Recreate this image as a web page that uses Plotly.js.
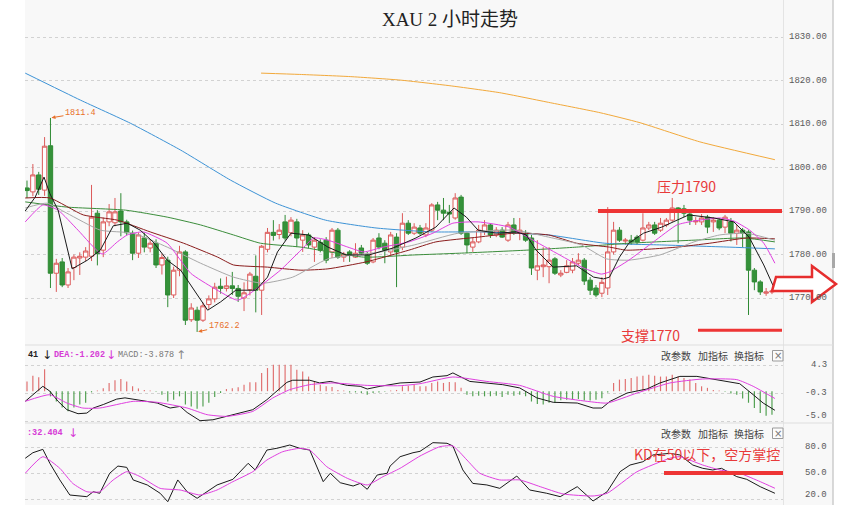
<!DOCTYPE html>
<html><head><meta charset="utf-8">
<script src="https://cdn.plot.ly/plotly-3.0.1.min.js"></script>
<style>html,body{margin:0;padding:0;background:#fff;}#chart{width:847px;height:513px;}</style>
</head><body><div id="chart"></div>
<script>
// ---------- data ----------
const opens = [1795.3,1794.4,1798.3,1794.8,1805.0,1775.7,1778.3,1773.0,1777.0,1779.2,
1779.4,1779.6,1789.5,1781.0,1787.5,1787.3,1790.0,1787.5,1784.9,1780.3,
1783.8,1781.5,1782.6,1777.6,1778.7,1770.7,1776.4,1780.6,1765.0,1767.2,
1764.9,1768.5,1769.8,1772.7,1772.2,1772.8,1772.2,1770.0,1771.9,1775.0,
1771.8,1781.2,1785.1,1784.6,1787.5,1785.0,1787.5,1783.3,1784.5,1781.7,
1782.8,1783.3,1780.6,1785.6,1779.4,1780.6,1779.4,1781.5,1779.9,1778.3,
1783.8,1782.6,1780.6,1784.0,1781.7,1787.2,1784.9,1786.1,1784.5,1785.6,
1791.4,1790.2,1789.7,1788.4,1793.2,1784.9,1781.7,1782.9,1785.2,1786.8,
1784.5,1785.6,1783.3,1786.8,1784.9,1784.9,1783.8,1776.4,1777.2,1777.2,
1779.0,1775.3,1775.9,1776.4,1778.0,1778.7,1774.1,1772.3,1771.1,1772.3,
1780.6,1785.6,1783.1,1783.3,1784.0,1783.3,1786.1,1786.8,1785.6,1786.8,
1787.9,1790.7,1790.5,1789.3,1787.5,1787.5,1788.6,1787.5,1787.9,1786.3,
1787.5,1784.9,1785.6,1785.2,1776.4,1773.7,1771.1,1771.4];
const highs = [1797.0,1800.8,1799.0,1807.0,1811.4,1779.0,1779.2,1776.9,1780.0,1780.5,
1781.7,1796.0,1790.2,1788.5,1791.6,1793.0,1794.1,1788.0,1785.5,1785.0,
1785.0,1783.5,1783.5,1780.2,1779.5,1777.2,1782.0,1781.0,1768.8,1768.0,
1769.0,1770.6,1773.5,1774.5,1774.9,1776.0,1773.0,1773.6,1776.0,1779.8,
1782.2,1786.1,1787.9,1787.0,1789.1,1788.6,1788.2,1785.6,1785.0,1784.0,
1783.5,1784.0,1786.1,1786.1,1780.6,1781.0,1782.6,1782.2,1780.6,1783.8,
1784.9,1783.3,1785.2,1784.9,1789.5,1787.9,1787.2,1786.8,1787.2,1791.8,
1792.1,1793.0,1791.4,1794.1,1793.7,1785.2,1783.8,1786.8,1787.9,1787.2,
1786.3,1786.3,1787.5,1788.4,1788.4,1785.6,1784.5,1783.3,1781.7,1781.7,
1779.4,1776.4,1778.7,1779.2,1780.3,1779.2,1774.8,1773.0,1774.8,1790.9,
1787.5,1786.3,1783.8,1784.5,1784.5,1789.5,1787.5,1787.5,1788.4,1788.4,
1793.0,1790.9,1791.4,1790.0,1788.6,1789.3,1789.1,1788.6,1788.4,1789.1,
1788.4,1786.8,1786.1,1785.6,1776.9,1774.1,1772.3,1772.0];
const lows = [1793.0,1793.4,1793.7,1793.5,1772.3,1771.4,1772.5,1772.3,1774.1,1775.3,
1778.5,1778.5,1777.5,1779.4,1786.5,1786.5,1784.2,1784.5,1778.7,1779.2,
1780.5,1780.5,1776.9,1775.4,1767.9,1770.0,1775.0,1763.8,1764.5,1762.2,
1764.5,1767.5,1769.0,1771.0,1771.5,1770.7,1769.1,1767.0,1770.6,1766.7,
1766.1,1780.5,1783.2,1783.5,1783.2,1784.2,1781.7,1780.6,1781.5,1778.3,
1780.5,1778.0,1779.2,1779.0,1778.3,1778.3,1779.2,1779.9,1777.6,1778.0,
1781.2,1778.0,1779.9,1772.5,1781.0,1784.5,1784.5,1784.5,1784.0,1785.2,
1787.9,1787.9,1787.2,1788.0,1784.5,1780.3,1780.6,1782.6,1784.5,1783.8,
1784.0,1783.8,1782.9,1784.5,1783.3,1782.9,1775.3,1774.1,1774.8,1773.4,
1775.3,1774.8,1775.7,1775.7,1777.6,1773.0,1770.7,1770.2,1770.2,1770.7,
1780.0,1782.9,1782.2,1782.2,1782.2,1783.0,1785.6,1784.5,1785.2,1786.3,
1787.5,1782.6,1788.6,1786.8,1786.8,1786.8,1784.9,1785.2,1785.6,1784.9,
1783.0,1782.2,1781.7,1766.1,1771.8,1770.7,1770.5,1770.9];
const closes = [1794.7,1798.3,1795.0,1804.9,1775.7,1778.0,1773.0,1776.0,1779.4,1779.6,
1780.8,1788.6,1780.2,1787.5,1789.8,1789.8,1787.5,1785.0,1780.3,1784.5,
1781.7,1782.6,1777.6,1779.3,1770.7,1776.4,1780.6,1764.9,1767.7,1764.9,
1768.2,1769.8,1772.5,1772.2,1772.8,1772.2,1770.4,1771.2,1775.5,1771.8,
1781.9,1785.1,1784.4,1785.6,1783.8,1787.9,1783.8,1784.5,1782.2,1783.3,
1781.0,1778.7,1785.6,1779.4,1780.1,1779.9,1780.3,1780.3,1778.0,1783.3,
1781.7,1781.0,1784.5,1780.6,1787.2,1784.9,1786.3,1784.9,1786.1,1791.4,
1790.2,1789.5,1789.3,1793.0,1784.9,1782.2,1782.9,1785.6,1786.8,1784.5,
1785.6,1784.0,1786.8,1784.9,1785.6,1783.3,1776.9,1777.4,1777.6,1778.7,
1775.7,1775.7,1777.4,1778.3,1778.7,1773.9,1771.8,1770.7,1773.6,1780.6,
1785.6,1783.3,1783.3,1782.9,1782.9,1786.1,1786.8,1784.9,1787.2,1787.9,
1790.7,1789.8,1789.5,1787.9,1787.7,1788.4,1786.3,1787.9,1786.1,1788.6,
1784.9,1785.6,1784.9,1776.4,1773.7,1771.4,1771.4,1771.6];
const barIndex = opens.map((_, i) => i);

// moving averages: bar position / price
const ma5X = [-0.3,1.4,2.9,3.9,5.3,7.7,10.3,12.5,14.7,17.1,19.3,21.5,23.9,26.2,30.8,33.0,35.6,39.0,41.0,42.7,45.0,48.0,51.3,54.4,58.3,62.4,66.3,69.7,72.8,74.9,76.9,80.0,83.4,85.1,86.8,89.7,93.7,96.6,98.3,99.3,101.0,102.6,105.1,108.2,112.8,117.1,120.5,123.1,125.6,127.2];
const ma5Y = [1790.0,1793.2,1797.8,1794.0,1790.2,1776.7,1778.7,1781.0,1786.6,1787.2,1785.6,1782.9,1778.7,1776.4,1767.2,1769.1,1771.8,1771.8,1774.8,1780.6,1784.9,1784.5,1781.7,1779.9,1779.9,1781.5,1783.8,1786.3,1790.7,1788.6,1785.6,1784.9,1785.2,1784.5,1781.0,1777.1,1777.4,1774.8,1774.4,1774.8,1779.4,1782.6,1784.9,1786.3,1789.1,1788.4,1787.5,1784.0,1777.6,1772.8];
const ma10X = [-0.3,2.7,5.3,8.7,12.8,15.4,17.1,19.8,23.9,27.9,31.8,35.9,38.6,43.2,46.7,48.9,51.3,54.7,57.4,60.7,65.1,69.2,72.6,76.9,82.2,85.6,90.8,94.9,97.9,99.3,102.6,106.8,110.8,113.7,118.1,120.5,123.2,125.6,127.5];
const ma10Y = [1787.5,1791.4,1790.2,1785.6,1780.1,1782.9,1784.5,1785.2,1782.6,1775.7,1772.3,1769.5,1771.6,1776.4,1781.0,1783.8,1783.3,1781.7,1780.6,1781.7,1782.9,1784.9,1787.2,1787.5,1786.3,1783.8,1779.9,1776.9,1775.5,1776.0,1778.7,1782.9,1786.8,1787.7,1788.4,1787.7,1785.6,1782.6,1778.0];
const ma20X = [-0.3,3.4,6.8,12.5,18.1,23.9,29.6,35.2,40.2,45.3,51.3,60.3,66.0,73.5,83.1,88.9,94.5,98.8,102.6,107.9,113.7,118.1,122.7,127.5];
const ma20Y = [1790.7,1791.8,1789.5,1785.6,1784.9,1781.7,1778.0,1774.8,1773.4,1774.8,1779.0,1780.6,1782.2,1784.9,1785.6,1784.0,1782.2,1779.0,1778.7,1779.9,1782.9,1784.5,1784.9,1783.3];
const ma30X = [-0.3,3.9,9.6,15.4,21.0,26.7,32.5,35.2,41.0,46.7,51.3,57.8,65.1,69.7,76.9,83.1,88.9,93.7,99.3,102.2,110.8,116.4,122.7,127.5];
const ma30Y = [1793.0,1793.0,1789.1,1787.9,1785.2,1782.6,1779.4,1777.6,1777.1,1776.4,1776.7,1778.3,1781.0,1782.9,1784.0,1784.9,1784.5,1782.6,1781.7,1781.0,1781.7,1782.6,1783.8,1783.6];
const ma60X = [-0.3,6.8,16.8,23.9,29.6,35.2,39.8,46.7,57.4,66.0,73.7,85.1,93.7,102.6,113.7,122.2,127.5];
const ma60Y = [1792.1,1790.9,1790.2,1788.6,1786.8,1784.5,1782.6,1781.7,1779.4,1779.9,1780.3,1781.0,1781.7,1782.6,1783.3,1783.8,1782.9];
const ma120X = [-0.3,9.1,17.6,26.2,34.7,42.4,50.9,59.5,68.9,77.4,88.9,98.5,108.2,119.7,127.5];
const ma120Y = [1821.7,1815.5,1810.2,1804.0,1797.1,1791.8,1787.9,1786.1,1785.2,1785.2,1784.5,1782.6,1782.2,1781.7,1781.3];
const ma250X = [39.9,46.5,55.1,63.6,72.1,80.6,89.2,97.7,104.5,114.7,127.5];
const ma250Y = [1821.7,1821.4,1820.9,1820.1,1818.8,1817.2,1814.9,1812.6,1810.3,1805.9,1801.8];

// MACD
const macdHist = [1.6,2.55,2.3,3.6,-0.85,-1.7,-2.7,-3.3,-2.7,-2.2,
-1.9,-0.2,0.1,0.5,1.35,1.8,2.0,1.6,0.8,0.45,
0.2,0.1,-0.1,-0.6,-1.7,-1.4,-0.85,-2.2,-2.5,-2.9,
-2.5,-1.9,-0.95,-0.3,0.35,0.5,0.65,1.07,1.45,1.45,
3.0,3.8,4.35,4.35,4.35,4.35,3.5,3.25,2.4,1.6,
1.05,0.8,0.7,0.2,0.1,-0.2,-0.2,-0.3,-0.6,-0.3,
-0.2,-0.1,0.1,0.2,0.8,0.9,1.05,0.8,0.8,1.35,
1.6,1.35,1.5,1.45,0.55,-0.6,-0.85,-0.75,-0.85,-0.85,
-0.75,-0.95,-0.6,-0.75,-0.6,-0.85,-1.7,-2.1,-2.2,-1.9,
-1.9,-1.5,-1.4,-1.3,-1.3,-1.55,-1.55,-1.4,-1.15,-0.2,
1.35,1.9,2.0,2.15,2.4,2.55,2.7,2.55,2.4,2.4,
2.7,2.4,2.15,1.9,1.35,0.8,0.55,0.2,0.1,-0.1,
-0.4,-0.6,-1.2,-1.9,-2.75,-3.6,-4.05,-3.878];
const difX = [-0.3,1.0,2.7,3.9,5.3,6.8,8.7,10.2,11.3,13.0,15.3,16.7,19.3,22.2,24.4,26.1,27.3,29.5,31.7,35.1,38.5,40.9,42.6,44.3,45.3,48.2,49.9,51.7,54.6,56.8,58.0,60.2,63.6,67.0,69.2,71.6,72.6,75.5,81.1,84.0,86.9,89.7,93.8,96.5,98.0,99.4,102.3,105.7,107.9,111.3,114.2,116.9,119.3,121.5,123.8,125.5,127.5];
const difY = [-1.67,-0.58,0.8,0,-1.67,-3.04,-3.7,-3.6,-2.77,-2.2,-1.3,-1.1,-1.5,-1.95,-2.77,-2.5,-3.5,-4.85,-4.7,-3.86,-3.04,-1.4,0,1.45,1.8,1.8,1.35,1.6,0.95,0.8,0.36,0.8,1.35,1.5,2.33,2.55,3.0,1.6,1.07,0.53,-1.1,-1.83,-1.95,-2.77,-2.77,-1.67,-0.3,0.36,1.35,2.43,2.43,2.0,1.6,1.23,-0.58,-1.95,-3.141];
const deaX = [-0.3,3.9,6.8,9.5,12.4,18.1,22.2,27.3,30.7,34.1,38.5,41.9,44.8,48.2,52.2,58.0,63.6,67.0,72.6,78.4,84.0,89.7,95.5,98.9,104.0,109.6,115.2,121.0,123.8,127.5];
const deaY = [-1.67,-0.58,-1.95,-2.77,-2.77,-1.67,-1.83,-2.77,-3.86,-4.14,-3.32,-1.12,0.25,1.07,1.35,0.95,0.9,1.23,2.33,1.6,0.95,-0.85,-1.67,-1.95,-0.3,1.35,2.0,1.9,0.8,-1.202];

// KD
const kX = [-0.3,1.0,2.7,3.9,5.6,7.3,10.2,11.3,12.4,14.1,15.5,17.0,18.1,20.5,22.7,24.0,25.7,27.3,29.0,30.7,32.4,35.1,37.7,38.9,40.9,42.6,44.8,46.5,48.2,50.5,51.7,53.4,55.6,56.8,58.0,59.7,61.4,61.9,63.6,65.8,67.0,69.2,71.6,72.6,74.3,76.0,78.4,80.6,83.5,85.7,88.6,90.9,93.8,96.5,98.9,101.1,102.8,105.0,106.7,109.6,111.3,113.5,115.2,116.9,118.4,121.0,122.7,125.0,127.5];
const kY = [67,73.4,77.3,61.2,42,24.6,22.7,28.4,26.6,49.7,58,56.5,42,36.2,26.6,16.9,42,28.4,20.8,28.4,36.2,42.7,61.2,53.5,76.5,78.5,82.3,78.5,76.5,40,49.7,38.8,35,38,31.2,47.7,49.7,58,68.8,73.4,75,85,84.3,81.2,53.5,38,36.2,32.3,46.5,30.4,26.6,22.7,34.2,17.7,28.4,51.5,59.2,63,70.8,72.7,70.8,59.2,55.4,53.5,55.4,45.8,42.7,34.2,26.6];
const dX = [-0.3,2.7,5.6,7.8,10.2,12.4,14.7,17.0,19.3,22.7,26.1,29.5,32.4,35.1,38.5,40.9,43.6,46.5,48.2,51.1,54.6,58.0,60.7,63.6,67.0,70.4,72.6,75.0,77.2,80.6,84.0,87.5,91.4,96.5,98.9,104.0,109.6,111.3,115.2,118.1,121.5,125.0,127.5];
const dY = [49.7,68.8,55.4,38,28.4,28.4,42,51.5,45.8,32.3,30.4,24.6,30.4,40,51.5,65,74.6,78.5,76.5,57.3,43.9,36.2,45.8,55.4,69.6,80.4,81.2,65,49.7,42,42,34.2,25.8,23.5,26.6,51.5,67,68.8,59.2,53.5,49.7,40,32.404];

const priceTicks = [1770,1780,1790,1800,1810,1820,1830];
const macdTicks = [4.3,-0.3,-5.0];
const kdTicks = [80,50,20];

// ---------- geometry helpers (pixel -> paper) ----------
const L = 25, R = 783, T = 0, B = 505;
const px = x => (x - L) / (R - L);
const py = y => 1 - (y - T) / (B - T);

const traces = [];
traces.push({type:'candlestick', x:barIndex, open:opens, high:highs, low:lows, close:closes,
  xaxis:'x', yaxis:'y', whiskerwidth:0,
  increasing:{line:{color:'#dc5a5a', width:1}, fillcolor:'#ffffff'},
  decreasing:{line:{color:'#2f8a34', width:1}, fillcolor:'#35923a'},
  hoverinfo:'skip'});
const lineDefs = [
  [ma250X, ma250Y, '#f2a93b', 'spline'],
  [ma120X, ma120Y, '#3d93d6', 'spline'],
  [ma60X, ma60Y, '#3b8d3b', 'spline'],
  [ma30X, ma30Y, '#8a1c1c', 'spline'],
  [ma20X, ma20Y, '#a8a8a8', 'spline'],
  [ma10X, ma10Y, '#e040e0', 'spline'],
  [ma5X, ma5Y, '#1a1a1a', 'linear']
];
lineDefs.forEach(d => traces.push({type:'scatter', mode:'lines', x:d[0], y:d[1], xaxis:'x', yaxis:'y',
  line:{color:d[2], width:1, shape:d[3], smoothing:0.5}, hoverinfo:'skip'}));

traces.push({type:'bar', x:barIndex, y:macdHist, xaxis:'x', yaxis:'y2', width:0.2,
  marker:{color:macdHist.map(v => v >= 0 ? '#e07070' : '#4f9f4f'), line:{width:0}}, hoverinfo:'skip'});
traces.push({type:'scatter', mode:'lines', x:difX, y:difY, xaxis:'x', yaxis:'y2', line:{color:'#1a1a1a', width:1}, hoverinfo:'skip'});
traces.push({type:'scatter', mode:'lines', x:deaX, y:deaY, xaxis:'x', yaxis:'y2', line:{color:'#e040e0', width:1, shape:'spline', smoothing:0.5}, hoverinfo:'skip'});
traces.push({type:'scatter', mode:'lines', x:kX, y:kY, xaxis:'x', yaxis:'y3', line:{color:'#1a1a1a', width:1}, hoverinfo:'skip'});
traces.push({type:'scatter', mode:'lines', x:dX, y:dY, xaxis:'x', yaxis:'y3', line:{color:'#e040e0', width:1, shape:'spline', smoothing:0.5}, hoverinfo:'skip'});

const gridStyle = {showgrid:true, gridcolor:'#d2d2d2', griddash:'dot', gridwidth:1, zeroline:false,
  showline:false, ticks:'', showticklabels:false, fixedrange:true, anchor:'x', side:'right'};

const ann = [];
const mono = 'Liberation Mono, DejaVu Sans Mono, monospace';
const cjk = 'Noto Sans CJK SC, sans-serif';
function axisLabel(txt, yref, yv, shift){
  ann.push({text:txt, xref:'paper', x:px(829), xanchor:'right', yref:yref, y:yv, yanchor:'middle',
    yshift:shift||0, showarrow:false, font:{family:mono, size:9, color:'#5a5a5a'}});
}
priceTicks.forEach(v => axisLabel(v.toFixed(2), 'y', v));
axisLabel('4.3','y2',4.3); axisLabel('-0.3','y2',-0.3); axisLabel('-5.0','y2',-5.0,6);
axisLabel('80.0','y3',80); axisLabel('50.0','y3',50); axisLabel('20.0','y3',20,4);

function txt(t, x, y, color, size, family, anchor){
  ann.push({text:t, xref:'paper', yref:'paper', x:px(x), y:py(y), xanchor:anchor||'left', yanchor:'middle',
    showarrow:false, font:{family:family, size:size, color:color}});
}
// panel headers
txt('<b>41</b>', 26, 355, '#222', 8.5, mono);
txt('↓', 40, 355, '#222', 12, 'DejaVu Sans');
txt('<b>DEA:-1.202</b>', 52, 355, '#d63bd6', 8.5, mono);
txt('↓', 104, 355, '#d63bd6', 12, 'DejaVu Sans');
txt('MACD:-3.878', 116, 355, '#777', 8.5, mono);
txt('↑', 174, 355, '#888', 12, 'DejaVu Sans');
txt('<b>:32.404</b>', 25, 433, '#d63bd6', 8.5, mono);
txt('↓', 66, 433, '#d63bd6', 12, 'DejaVu Sans');
[355, 433].forEach(y => {
  txt('改参数', 675.5, y, '#444', 10, cjk, 'center');
  txt('加指标', 712.5, y, '#444', 10, cjk, 'center');
  txt('换指标', 749, y, '#444', 10, cjk, 'center');
  txt('×', 777.8, y, '#777', 10, 'DejaVu Sans', 'center');
});
// commentary
txt('压力1790', 686, 186, '#e83a3a', 14, cjk, 'center');
txt('支撑1770', 650, 335, '#e83a3a', 14, cjk, 'center');
txt('KD在50以下，空方掌控', 707, 454, '#e83a3a', 14, cjk, 'center');
// high / low markers
ann.push({text:'1811.4', x:4, y:1811.4, xref:'x', yref:'y', showarrow:true, ax:30, ay:-5,
  arrowhead:2, arrowsize:0.8, arrowwidth:1, arrowcolor:'#e8702a', standoff:1,
  font:{family:mono, size:8.5, color:'#e8702a'}});
ann.push({text:'1762.2', x:29, y:1762.2, xref:'x', yref:'y', showarrow:true, ax:27, ay:-6,
  arrowhead:2, arrowsize:0.8, arrowwidth:1, arrowcolor:'#e8702a', standoff:1,
  font:{family:mono, size:8.5, color:'#e8702a'}});

const shapes = [];
function pline(x0,y0,x1,y1,color,w){shapes.push({type:'line',xref:'paper',yref:'paper',x0:px(x0),y0:py(y0),x1:px(x1),y1:py(y1),line:{color:color,width:w}});}
function prect(x0,y0,x1,y1,fill,lc,lw,layer){shapes.push({type:'rect',xref:'paper',yref:'paper',x0:px(x0),y0:py(y0),x1:px(x1),y1:py(y1),fillcolor:fill,line:{color:lc,width:lw},layer:layer||'above'});}
prect(783, 0, 833, 505, '#f8f8f8', 'rgba(0,0,0,0)', 0, 'below');
pline(783.5, 0, 783.5, 505, '#e4e4e4', 1);
pline(833, 0, 833, 505, '#cdcdcd', 1.5);
prect(832, 253, 835, 268, '#a8a8a8', 'rgba(0,0,0,0)', 0);
pline(25, 345, 833, 345, '#dedede', 1);
pline(25, 423, 833, 423, '#dedede', 1);
prect(772.5, 350.5, 783, 361, 'rgba(255,255,255,0.6)', '#9a9a9a', 1);
prect(772.5, 428, 783, 438.5, 'rgba(255,255,255,0.6)', '#9a9a9a', 1);
// resistance / support / KD lines
shapes.push({type:'line', xref:'paper', yref:'y', x0:px(598), x1:px(782), y0:1790, y1:1790, line:{color:'#ee3535', width:4}});
shapes.push({type:'line', xref:'paper', yref:'y', x0:px(698), x1:px(782), y0:1762.6, y1:1762.6, line:{color:'#ee3535', width:3}});
shapes.push({type:'line', xref:'paper', yref:'y3', x0:px(664), x1:px(783), y0:50, y1:50, line:{color:'#ee3535', width:4}});
// hollow red arrow
const arrowPts = [[772,291],[776,277],[812,277],[812,266],[836,284],[812,302],[812,291]];
let path = 'M ' + arrowPts.map(p => px(p[0]).toFixed(5) + ',' + py(p[1]).toFixed(5)).join(' L ') + ' Z';
shapes.push({type:'path', xref:'paper', yref:'paper', path:path, fillcolor:'#ffffff', line:{color:'#e62e2e', width:2.5}});

const layout = {
  width:847, height:513,
  margin:{l:L, r:847-R, t:T, b:513-B, pad:0},
  paper_bgcolor:'#ffffff', plot_bgcolor:'#f8f8f8',
  showlegend:false, hovermode:false, dragmode:false,
  boxgap:0.25, boxgroupgap:0,
  title:{text:'XAU 2 小时走势', font:{family:'Liberation Serif, Noto Sans CJK SC, serif', size:19, color:'#222'},
    xref:'paper', x:px(450), xanchor:'center', yref:'container', y:1-19/513, yanchor:'middle'},
  xaxis:{range:[-0.34,128.88], visible:false, fixedrange:true, rangeslider:{visible:false}, anchor:'y'},
  yaxis:Object.assign({}, gridStyle, {domain:[py(345),1], range:[1759.2,1838.51], tickvals:priceTicks}),
  yaxis2:Object.assign({}, gridStyle, {domain:[py(423),py(345)], range:[-5.229,7.586], tickvals:macdTicks}),
  yaxis3:Object.assign({}, gridStyle, {domain:[0,py(423)], range:[13.08,107.7], tickvals:kdTicks}),
  annotations:ann, shapes:shapes
};
Plotly.newPlot('chart', traces, layout, {staticPlot:true, displayModeBar:false});
</script></body></html>
